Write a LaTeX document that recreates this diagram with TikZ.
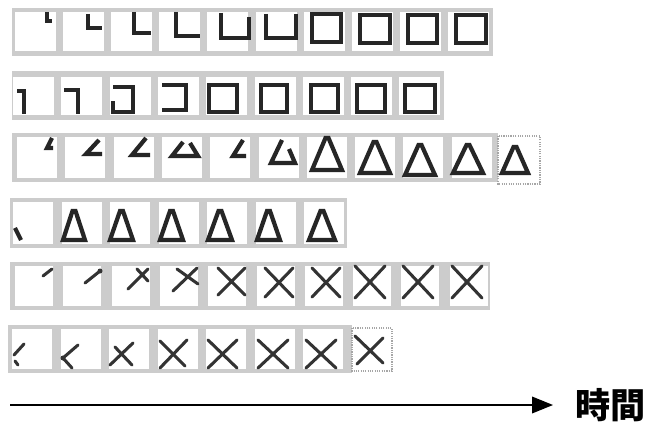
\documentclass[tikz,border=0pt]{standalone}
\usepackage{fontspec}
\newfontfamily\jpfont{Noto Sans CJK JP}
\usetikzlibrary{arrows.meta}
\begin{document}
\begin{tikzpicture}[x=0.03cm,y=-0.03cm,
  strip/.style={fill=gray!40},
  cell/.style={fill=white},
  hcell/.style={fill=white,draw=gray!70,densely dotted,line width=1pt},
  ink/.style={draw=black!85,line width=3.6pt,line join=miter},
  pen/.style={draw=black!80,line width=2.6pt,line cap=round}]
  \useasboundingbox (0,0) rectangle (646,428);
  \fill[strip] (12,8) rectangle (493,56);
  \foreach \x in {15,63.1,...,450} \fill[cell] (\x,12) rectangle +(41,39);
  \draw[ink] (47,12)--(47,21)--(52,21);
  \draw[ink] (88,14)--(88,28)--(102,28);
  \draw[ink] (134,12)--(134,33)--(151,33);
  \draw[ink] (176,12)--(176,36)--(200,36);
  \draw[ink] (221,13)--(221,38)--(249,38)--(249,17);
  \draw[ink] (266,14)--(266,38)--(296,38)--(296,14);
  \draw[ink] (312,14) rectangle (341,42);
  \draw[ink] (360,15) rectangle (390,43);
  \draw[ink] (408,15) rectangle (437,43);
  \draw[ink] (456,15) rectangle (486,43);
  \fill[strip] (12,71) rectangle (444,120);
  \foreach \x in {13,61.3,...,420} \fill[cell] (\x,77) rectangle +(41,38);
  \draw[ink] (17,91)--(24,91)--(24,114);
  \draw[ink] (64,90)--(78,90)--(78,114);
  \draw[ink] (113,87)--(133,87)--(133,112)--(113,112)--(113,101);
  \draw[ink] (162,85)--(186,85)--(186,110)--(162,110);
  \draw[ink] (209,85) rectangle (237,112);
  \draw[ink] (261,85) rectangle (287,112);
  \draw[ink] (311,85) rectangle (338,112);
  \draw[ink] (357,85) rectangle (385,112);
  \draw[ink] (405,85) rectangle (435,112);
  \fill[strip] (12,133) rectangle (498,182);
  \foreach \x in {17,65.3,...,460} \fill[cell] (\x,137) rectangle +(40,41);
  \draw[hcell] (498,136) rectangle (540,184);
  \draw[ink] (52,138)--(47,148)--(53,148);
  \draw[ink] (99,140)--(86,154)--(102,154);
  \draw[ink] (146,138)--(132,155)--(150,155);
  \draw[ink] (183,142)--(172,156)--(198,156)--(190,143);
  \draw[ink] (243,140)--(233,156)--(246,156);
  \draw[ink] (282,140)--(271,163)--(295,163)--(289,149);
  \draw[ink] (325.5,138)--(312,170)--(342,170)--(328.5,138)--cycle;
  \draw[ink] (373.5,142)--(360,173)--(390,173)--(376.5,142)--cycle;
  \draw[ink] (418.5,145)--(405,175)--(435,175)--(421.5,145)--cycle;
  \draw[ink] (466.5,145)--(453,173)--(483,173)--(469.5,145)--cycle;
  \draw[ink] (513.5,147)--(502,173)--(528,173)--(516.5,147)--cycle;
  \fill[strip] (10,198) rectangle (347,248);
  \foreach \x in {13,61.5,...,320} \fill[cell] (\x,202) rectangle +(40,42);
  \draw[ink] (15,228)--(21,240);
  \draw[ink] (72.5,211)--(63,240)--(85,240)--(75.5,211)--cycle;
  \draw[ink] (120,211)--(110,240)--(133,240)--(123,211)--cycle;
  \draw[ink] (170,211)--(160,240)--(183,240)--(173,211)--cycle;
  \draw[ink] (218.5,211)--(208,240)--(232,240)--(221.5,211)--cycle;
  \draw[ink] (267,211)--(257,240)--(280,240)--(270,211)--cycle;
  \draw[ink] (320.5,211)--(309,240)--(335,240)--(323.5,211)--cycle;
  \fill[strip] (10,262) rectangle (490,310);
  \foreach \x in {15,63.3,...,460} \fill[cell] (\x,266) rectangle +(38,40);
  \draw[pen] (43,276)--(52,269);
  \draw[pen] (85,283)--(100,271);
  \fill[black!80] (100,271) circle (2.5);
  \draw[pen] (128,289)--(148,269) (137,269)--(148,281);
  \draw[pen] (173,291)--(197,268) (177,269)--(198,284);
  \draw[pen] (218,295)--(245,268) (218,268)--(245,295);
  \draw[pen] (265,297)--(293,268) (265,268)--(293,297);
  \draw[pen] (312,297)--(340,268) (312,268)--(340,297);
  \draw[pen] (355,298)--(385,266) (355,266)--(385,298);
  \draw[pen] (403,298)--(433,266) (403,266)--(433,298);
  \draw[pen] (452,298)--(482,266) (452,266)--(482,298);
  \fill[strip] (8,325) rectangle (352,373);
  \foreach \x in {12,60.5,...,310} \fill[cell] (\x,329) rectangle +(40,40);
  \draw[hcell] (352,328) rectangle (392,371);
  \draw[pen] (24,344)--(14,355) (15,361)--(18,365);
  \draw[pen] (78,345)--(63,358)--(72,368);
  \fill[black!80] (63,358) circle (2.5);
  \draw[pen] (110,365)--(133,343) (115,347)--(132,365);
  \draw[pen] (160,368)--(187,340) (160,341)--(185,366);
  \draw[pen] (208,368)--(237,340) (208,340)--(237,368);
  \draw[pen] (258,368)--(288,340) (258,340)--(288,368);
  \draw[pen] (306,368)--(336,340) (306,340)--(336,368);
  \draw[pen] (357,364)--(383,338) (355,336)--(383,363);
  \coordinate (t0) at (10,405);
  \node[font=\jpfont\bfseries\fontsize{30}{34}\selectfont,inner sep=0pt,anchor=west] (jikan) at (575,405) {時間};
  \draw[line width=2pt,-{Triangle[length=18pt,width=14pt]},shorten >=18.7pt] (t0) -- (t0 -| jikan.west);
\end{tikzpicture}
\end{document}
